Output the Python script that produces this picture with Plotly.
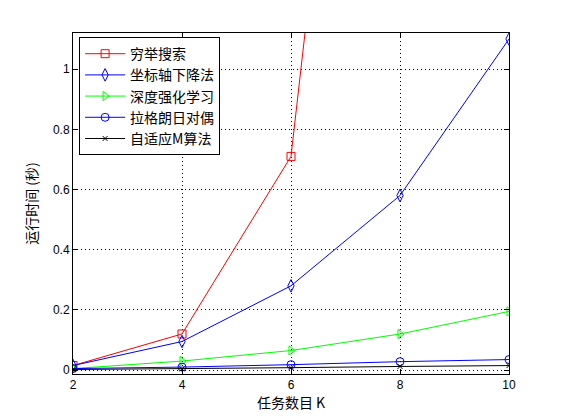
import plotly.graph_objects as go

K = [2, 4, 6, 8, 10]
names = ["穷举搜索", "坐标轴下降法", "深度强化学习", "拉格朗日对偶", "自适应M算法"]
exhaustive = [0.015, 0.12, 0.71, 3.9, 15.0]
coord_desc = [0.015, 0.095, 0.28, 0.58, 1.1]
drl = [0.005, 0.03, 0.065, 0.12, 0.195]
lagrange = [0.005, 0.01, 0.018, 0.028, 0.035]
adaptive_m = [0.002, 0.004, 0.008, 0.012, 0.015]

series = [exhaustive, coord_desc, drl, lagrange, adaptive_m]
colors = ["#ff0000", "#0000ff", "#00ff00", "#0000ff", "#000000"]
symbols = ["square-open", "diamond-tall-open", "triangle-right-open", "circle-open", "x-thin-open"]
sizes = [8, 9, 8, 8, 5]

fig = go.Figure()
for n, y, c, s, sz in zip(names, series, colors, symbols, sizes):
    fig.add_trace(go.Scatter(
        x=K, y=y, name=n, mode="lines+markers",
        line=dict(color=c, width=1),
        marker=dict(symbol=s, size=sz, color=c, line=dict(color=c, width=1)),
        cliponaxis=True,
    ))

font = "Liberation Sans, Noto Sans CJK SC, sans-serif"
fig.update_layout(
    width=561, height=420,
    margin=dict(l=73, r=52, t=33, b=46),
    paper_bgcolor="white", plot_bgcolor="white",
    font=dict(family=font, size=12, color="black"),
    showlegend=True,
    legend=dict(
        x=0.014, y=0.988, xanchor="left", yanchor="top",
        bgcolor="white", bordercolor="black", borderwidth=1,
        font=dict(family="Noto Sans CJK SC, sans-serif", size=14),
        tracegroupgap=0, itemwidth=40,
    ),
)
fig.update_xaxes(
    range=[2, 10], tickvals=[2, 4, 6, 8, 10],
    showgrid=True, gridcolor="black", griddash="1px,3px", gridwidth=1,
    showline=True, linecolor="black", linewidth=1, mirror="ticks",
    ticks="inside", ticklen=5, tickcolor="black",
    tickfont=dict(size=12),
    zeroline=False,
    title=dict(text="任务数目 K", font=dict(family="Noto Sans CJK SC, sans-serif", size=14), standoff=2),
)
fig.update_yaxes(
    range=[-0.013, 1.12], tickvals=[0, 0.2, 0.4, 0.6, 0.8, 1.0],
    ticktext=["0", "0.2", "0.4", "0.6", "0.8", "1"],
    showgrid=True, gridcolor="black", griddash="1px,3px", gridwidth=1,
    showline=True, linecolor="black", linewidth=1, mirror="ticks",
    ticks="inside", ticklen=5, tickcolor="black",
    tickfont=dict(size=12),
    zeroline=False,
    title=dict(text="运行时间 (秒)", font=dict(family="Noto Sans CJK SC, sans-serif", size=14), standoff=12),
)
fig.write_html("out.html")
